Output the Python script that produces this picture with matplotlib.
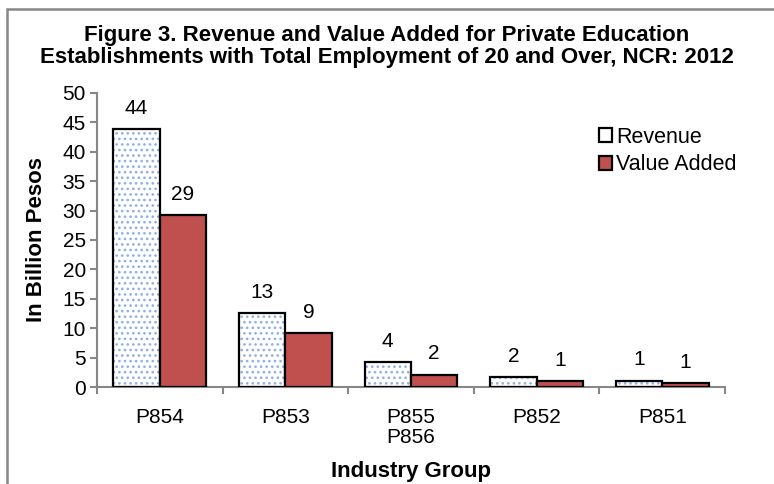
import numpy as np
import matplotlib.pyplot as plt
from matplotlib.patches import Rectangle

plt.rcParams["font.family"] = ["Liberation Sans", "DejaVu Sans"]
plt.rcParams["hatch.linewidth"] = 1.1

# industry groups and values (billion pesos)
groups = ["P854", "P853", "P855\nP856", "P852", "P851"]
revenue = [43.8, 12.6, 4.2, 1.7, 1.1]
value_added = [29.2, 9.1, 2.1, 1.0, 0.7]

x = np.arange(len(groups))
w = 0.37

fig = plt.figure(figsize=(7.74, 4.84), dpi=100)
ax = fig.add_axes([0.1253, 0.2004, 0.8114, 0.6075])

# revenue: white with light blue dots, black outline on top
ax.bar(x - w / 2, revenue, w, color="white", edgecolor="#8fb0e0",
       hatch="...", linewidth=0, zorder=2)
ax.bar(x - w / 2, revenue, w, color="none", edgecolor="black",
       linewidth=1.6, zorder=3)
ax.bar(x + w / 2, value_added, w, color="#C0504D", edgecolor="black",
       linewidth=1.6, zorder=3)

for i in range(len(groups)):
    ax.text(x[i] - w / 2, revenue[i] + 1.9, f"{revenue[i]:.0f}",
            ha="center", va="bottom", fontsize=15)
    ax.text(x[i] + w / 2, value_added[i] + 1.9, f"{value_added[i]:.0f}",
            ha="center", va="bottom", fontsize=15)

ax.set_ylim(0, 50)
ax.set_xlim(-0.5, len(groups) - 0.5)
ax.set_yticks(np.arange(0, 51, 5))
ax.set_xticks(x)
ax.set_xticklabels(groups, fontsize=15, linespacing=1.1)
ax.set_xticks(np.arange(-0.5, len(groups), 1), minor=True)
ax.tick_params(axis="x", which="major", length=0, pad=15)
ax.tick_params(axis="x", which="minor", length=5, color="#878787", width=1.5)
ax.tick_params(axis="y", labelsize=15, length=5, color="#878787", width=1.5, pad=3)

for s in ["top", "right"]:
    ax.spines[s].set_visible(False)
for s in ["left", "bottom"]:
    ax.spines[s].set_color("#878787")
    ax.spines[s].set_linewidth(1.5)

ax.set_ylabel("In Billion Pesos", fontsize=16, fontweight="bold", labelpad=11)
ax.set_xlabel("Industry Group", fontsize=16, fontweight="bold", labelpad=10)

fig.text(0.5, 0.948, "Figure 3. Revenue and Value Added for Private Education\n"
         "Establishments with Total Employment of 20 and Over, NCR: 2012",
         ha="center", va="top", fontsize=16, fontweight="bold", linespacing=1.05)

# legend handles
h1 = Rectangle((0, 0), 1, 1, facecolor="white", edgecolor="black", linewidth=1.6)
h2 = Rectangle((0, 0), 1, 1, facecolor="#C0504D", edgecolor="black", linewidth=1.6)
ax.legend([h1, h2], ["Revenue", "Value Added"], loc="upper left",
          bbox_to_anchor=(0.786, 0.914), frameon=False, fontsize=15.5,
          handlelength=0.6, handleheight=0.6, handletextpad=0.2,
          labelspacing=0.3, borderaxespad=0)

# outer frame (runs off the right and bottom edges)
fig.patches.append(Rectangle((7 / 774, -0.05), 1.1, 1.05 - 9 / 484,
                             transform=fig.transFigure, fill=False,
                             edgecolor="#878787", linewidth=1.8))

fig.savefig("out.png", dpi=100)
